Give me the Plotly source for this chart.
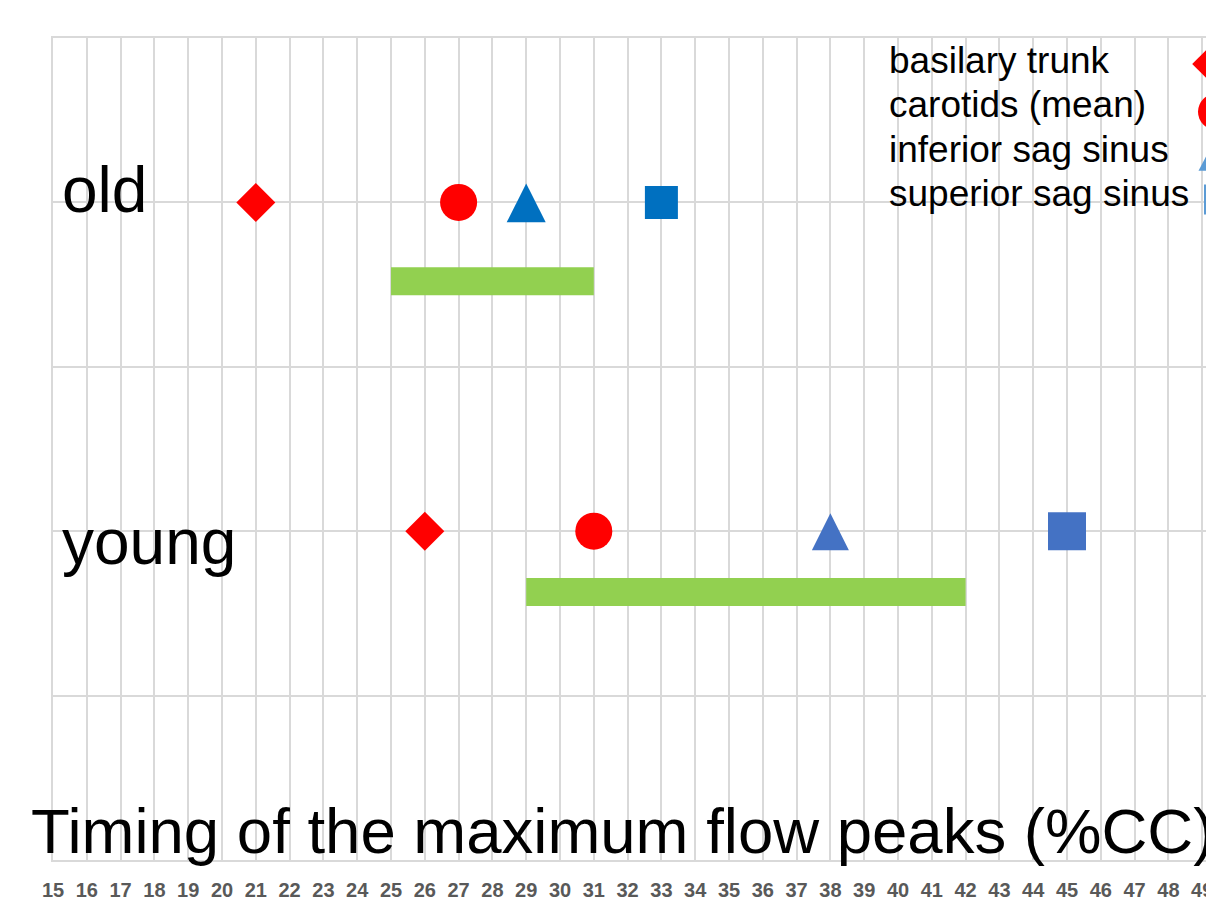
import plotly.graph_objects as go

# ---------------- data ----------------
groups = ["old", "young"]
group_y = [4, 2]

basilary_trunk = [21, 26]
carotids_mean = [27, 31]
inferior_sag_sinus = [29, 38]
superior_sag_sinus = [33, 45]

bar_start = [25, 29]
bar_end = [31, 42]
bar_y = [3.52, 1.63]

legend_labels = ["basilary trunk", "carotids (mean)", "inferior sag sinus", "superior sag sinus"]
x_ticks = list(range(15, 51))

# ---------------- layout constants ----------------
OFF = 8                      # page body margin
PAGE_W, PAGE_H = 1214, 901
W, H = PAGE_W - OFF, PAGE_H - OFF
# reference pixel positions (page coords)
REF_LEFT, REF_TOP, REF_BOTTOM = 53, 38, 862
ML = REF_LEFT - OFF
MT = REF_TOP - OFF
MB = H - (REF_BOTTOM - OFF)
MR = 0
PX_PER_X = 33.8
X0 = 15
X1 = X0 + (W - ML - MR) / PX_PER_X
Y0, Y1 = 0, 5
PX_PER_Y = (H - MT - MB) / (Y1 - Y0)
PLOT_W = W - ML - MR
PLOT_H = H - MT - MB

RED = "#FF0000"
BLUE_OLD = "#0070C0"
BLUE_YOUNG = "#4472C4"
BLUE_LEG = "#5B9BD5"
GREEN = "#92D050"
GRID = "#D9D9D9"
FONT = "Liberation Sans, Arial, sans-serif"


def px_to_x(px):            # px in reference page coords
    return X0 + (px - REF_LEFT) / PX_PER_X


def py_to_y(py):
    return Y1 - (py - REF_TOP) / PX_PER_Y


def paper_x(px):
    return (px - REF_LEFT) / PLOT_W


def paper_y(py):
    return (REF_BOTTOM - py) / PLOT_H


def triangles(xs, ys, w_px, up_px, down_px):
    tx, ty = [], []
    for xc, yc in zip(xs, ys):
        hw = w_px / 2 / PX_PER_X
        yb = yc - down_px / PX_PER_Y
        ya = yc + up_px / PX_PER_Y
        tx += [xc - hw, xc + hw, xc, xc - hw, None]
        ty += [yb, yb, ya, yb, None]
    return tx, ty


fig = go.Figure()

# green bars
fig.add_trace(go.Bar(
    orientation="h",
    y=bar_y,
    base=bar_start,
    x=[e - s for s, e in zip(bar_start, bar_end)],
    width=28 / PX_PER_Y,
    marker=dict(color=GREEN, line=dict(width=0)),
    showlegend=False,
    hoverinfo="skip",
))

# diamonds
fig.add_trace(go.Scatter(
    x=basilary_trunk, y=group_y, mode="markers",
    marker=dict(symbol="diamond", size=30, color=RED, line=dict(width=0)),
    showlegend=False,
))
# circles
fig.add_trace(go.Scatter(
    x=carotids_mean, y=group_y, mode="markers",
    marker=dict(symbol="circle", size=37, color=RED, line=dict(width=0)),
    showlegend=False,
))
# triangles (old / young)
tx, ty = triangles(inferior_sag_sinus[:1], group_y[:1], 39, 19, 20)
fig.add_trace(go.Scatter(x=tx, y=ty, mode="lines", fill="toself", fillcolor=BLUE_OLD,
                         line=dict(width=0, color=BLUE_OLD), showlegend=False))
tx, ty = triangles(inferior_sag_sinus[1:], group_y[1:], 37, 18, 19)
fig.add_trace(go.Scatter(x=tx, y=ty, mode="lines", fill="toself", fillcolor=BLUE_YOUNG,
                         line=dict(width=0, color=BLUE_YOUNG), showlegend=False))
# squares
fig.add_trace(go.Scatter(
    x=superior_sag_sinus[:1], y=group_y[:1], mode="markers",
    marker=dict(symbol="square", size=33, color=BLUE_OLD, line=dict(width=0)),
    showlegend=False,
))
fig.add_trace(go.Scatter(
    x=superior_sag_sinus[1:], y=group_y[1:], mode="markers",
    marker=dict(symbol="square", size=38, color=BLUE_YOUNG, line=dict(width=0)),
    showlegend=False,
))

# custom legend (text on the left, symbols on the right, clipped by the plot edge)
leg_text_py = [61, 105, 150, 194]
for lab, py in zip(legend_labels, leg_text_py):
    fig.add_annotation(text=lab, xref="paper", yref="paper",
                       x=paper_x(887), y=paper_y(py),
                       xanchor="left", yanchor="middle", showarrow=False,
                       font=dict(family=FONT, size=37, color="#000000"))

fig.add_trace(go.Scatter(x=[px_to_x(1213)], y=[py_to_y(64)], mode="markers", cliponaxis=True,
                         marker=dict(symbol="diamond", size=32, color=RED), showlegend=False))
fig.add_trace(go.Scatter(x=[px_to_x(1216)], y=[py_to_y(112)], mode="markers", cliponaxis=True,
                         marker=dict(symbol="circle", size=36, color=RED), showlegend=False))
tx, ty = triangles([px_to_x(1218)], [py_to_y(153)], 39, 19, 18)
fig.add_trace(go.Scatter(x=tx, y=ty, mode="lines", fill="toself", fillcolor=BLUE_LEG,
                         line=dict(width=0, color=BLUE_LEG), showlegend=False))
fig.add_trace(go.Scatter(x=[px_to_x(1219)], y=[py_to_y(200)], mode="markers", cliponaxis=True,
                         marker=dict(symbol="square", size=30, color=BLUE_LEG), showlegend=False))

# group labels
for g, py in zip(groups, [190, 543]):
    fig.add_annotation(text=g, xref="paper", yref="paper",
                       x=paper_x(60), y=paper_y(py),
                       xanchor="left", yanchor="middle", showarrow=False,
                       font=dict(family=FONT, size=64, color="#000000"))

# axis title as overlaid text
fig.add_annotation(text="Timing of the maximum flow peaks (%CC)", xref="paper", yref="paper",
                   x=paper_x(29), y=paper_y(833),
                   xanchor="left", yanchor="middle", showarrow=False,
                   font=dict(family=FONT, size=63.5, color="#000000"))

fig.update_layout(
    width=W, height=H,
    margin=dict(l=ML, r=MR, t=MT, b=MB, pad=0),
    plot_bgcolor="white", paper_bgcolor="white",
    barmode="overlay",
    showlegend=False,
    xaxis=dict(range=[X0, X1], tickmode="array", tickvals=x_ticks,
               ticktext=[f"<b>{t}</b>" for t in x_ticks],
               tickfont=dict(family=FONT, size=20, color="#595959"),
               showgrid=True, gridcolor=GRID, gridwidth=2,
               zeroline=False, showline=True, linecolor=GRID, linewidth=2, mirror=True,
               ticks="", ticklabelstandoff=11, fixedrange=True),
    yaxis=dict(range=[Y0, Y1], dtick=1, showticklabels=False,
               showgrid=True, gridcolor=GRID, gridwidth=2,
               zeroline=False, showline=True, linecolor=GRID, linewidth=2,
               ticks="", fixedrange=True),
)

fig.write_html("out.html")
